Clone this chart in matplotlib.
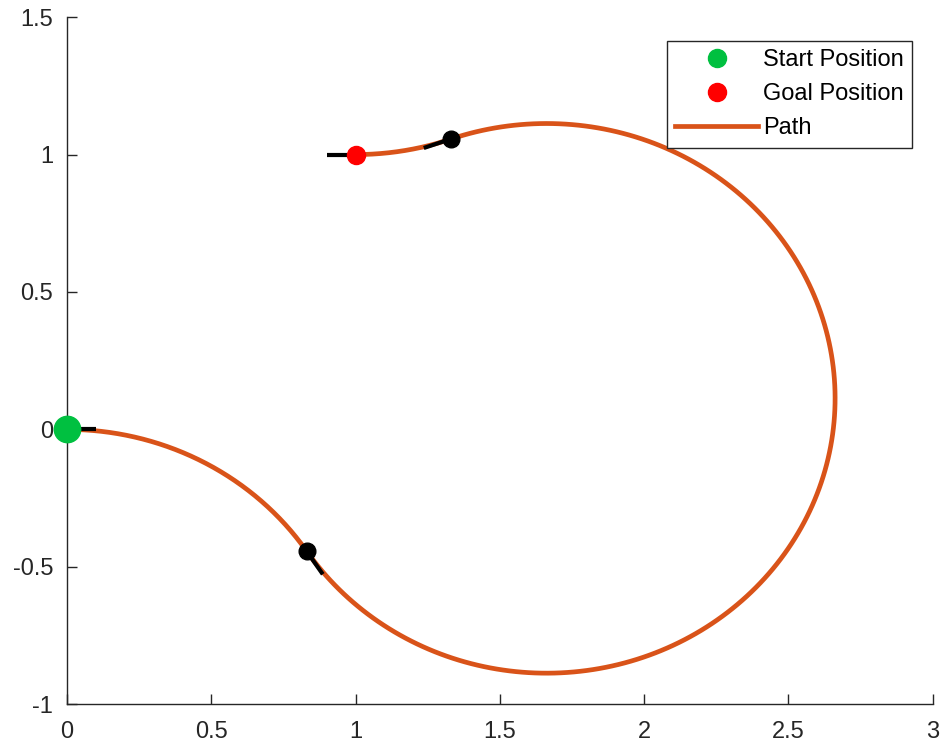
import numpy as np
import matplotlib.pyplot as plt
from matplotlib.lines import Line2D

plt.rcParams['font.family'] = ['Liberation Sans', 'DejaVu Sans']

# poses: x, y, heading (deg)
start_pose = [0.0, 0.0, 0.0]
goal_pose = [1.0, 1.0, 180.0]

# Dubins RLR segments
arc_cx = [0.0, 1.662, 1.0]
arc_cy = [-1.0, 0.113, 2.0]
arc_r = [1.0, 1.0, 1.0]
arc_a0 = [90.0, -146.2, -70.7]
arc_a1 = [33.8, 109.3, -90.0]

# transition points between segments
wp_x = [0.831, 1.331]
wp_y = [-0.444, 1.057]
wp_heading = [-56.2, -160.7]

heading_len = 0.1
path_color = '#D95319'
axis_color = '#262626'

xs, ys = [], []
for cx, cy, r, a0, a1 in zip(arc_cx, arc_cy, arc_r, arc_a0, arc_a1):
    t = np.radians(np.linspace(a0, a1, 200))
    xs.append(cx + r * np.cos(t))
    ys.append(cy + r * np.sin(t))
xs = np.concatenate(xs)
ys = np.concatenate(ys)

fig = plt.figure(figsize=(9.43, 7.46), dpi=100)
ax = fig.add_axes([0.071, 0.056, 0.918, 0.921])

ax.plot(xs, ys, color=path_color, lw=3.4, zorder=2)

# heading ticks
px = [start_pose[0], goal_pose[0]] + wp_x
py = [start_pose[1], goal_pose[1]] + wp_y
ph = [start_pose[2], goal_pose[2]] + wp_heading
for x, y, h in zip(px, py, ph):
    ax.plot([x, x + heading_len * np.cos(np.radians(h))],
            [y, y + heading_len * np.sin(np.radians(h))],
            color='black', lw=3, zorder=3, solid_capstyle='butt')

ax.plot(wp_x, wp_y, 'o', color='black', ms=12, zorder=4)
ax.plot(start_pose[0], start_pose[1], 'o', color='#00C040', ms=19, zorder=5, clip_on=False)
ax.plot(goal_pose[0], goal_pose[1], 'o', color='#FF0000', ms=13, zorder=5)

ax.set_xlim(0, 3)
ax.set_ylim(-1, 1.5)
ax.set_xticks([0, 0.5, 1, 1.5, 2, 2.5, 3])
ax.set_xticklabels(['0', '0.5', '1', '1.5', '2', '2.5', '3'])
ax.set_yticks([-1, -0.5, 0, 0.5, 1, 1.5])
ax.set_yticklabels(['-1', '-0.5', '0', '0.5', '1', '1.5'])

for side in ['top', 'right']:
    ax.spines[side].set_visible(False)
for side in ['left', 'bottom']:
    ax.spines[side].set_color(axis_color)
    ax.spines[side].set_linewidth(1.0)
ax.tick_params(direction='in', length=7, width=1, color=axis_color,
               labelcolor=axis_color, labelsize=17)
ax.tick_params(axis='x', pad=12)
ax.tick_params(axis='y', pad=10)

handles = [
    Line2D([], [], ls='none', marker='o', color='#00C040', ms=13),
    Line2D([], [], ls='none', marker='o', color='#FF0000', ms=13),
    Line2D([], [], color=path_color, lw=3.4),
]
leg = ax.legend(handles, ['Start Position', 'Goal Position', 'Path'],
                loc='upper right', bbox_to_anchor=(0.976, 0.966),
                fontsize=17, frameon=True, fancybox=False, framealpha=1,
                handlelength=3.5, handletextpad=0.2, borderpad=0.35,
                labelspacing=0.52, borderaxespad=0)
leg.get_frame().set_edgecolor(axis_color)
leg.get_frame().set_linewidth(1.0)

fig.savefig('out.png', dpi=100)
